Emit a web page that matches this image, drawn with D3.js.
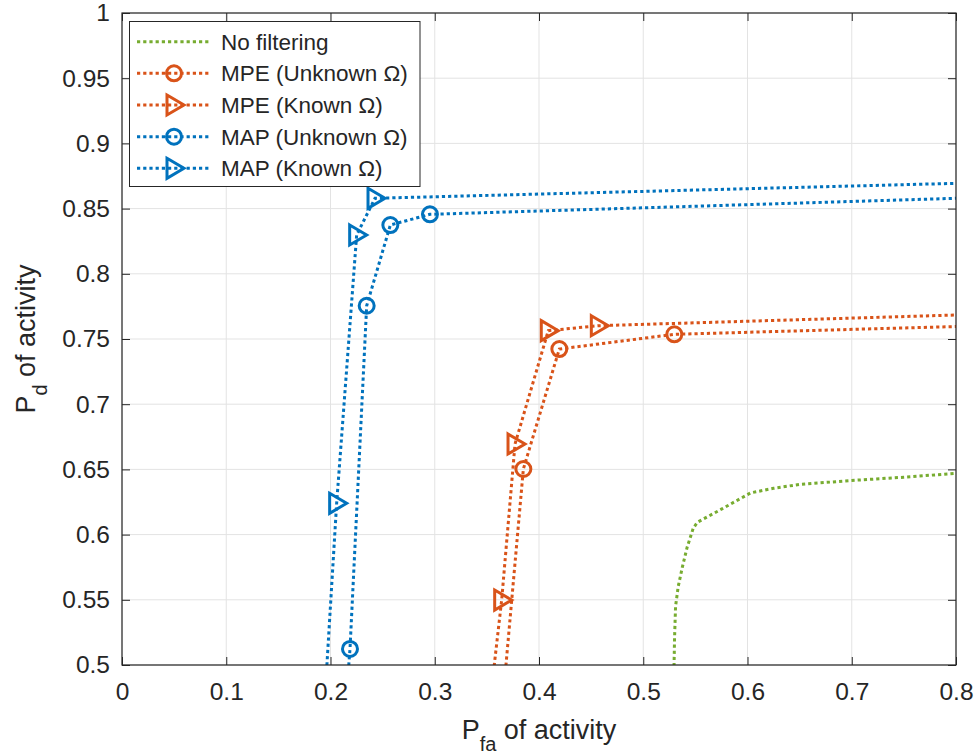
<!DOCTYPE html>
<html>
<head>
<meta charset="utf-8">
<script src="https://cdn.jsdelivr.net/npm/d3@7"></script>
<style>
  body { margin: 0; background: #fff; }
  text { font-family: "Liberation Sans", Arial, Helvetica, sans-serif; fill: #262626; }
</style>
</head>
<body>
<svg id="chart" width="979" height="755"></svg>
<script>
// tick values
const xTicks = [0, 0.1, 0.2, 0.3, 0.4, 0.5, 0.6, 0.7, 0.8];
const yTicks = [0.5, 0.55, 0.6, 0.65, 0.7, 0.75, 0.8, 0.85, 0.9, 0.95, 1];

// No filtering (line only)
const noFiltX = [0.5291, 0.5300, 0.5310, 0.5335, 0.5375, 0.5420, 0.5480, 0.5520, 0.5750, 0.6030, 0.6250, 0.6500, 0.7000, 0.7500, 0.8000, 0.8500];
const noFiltY = [0.480, 0.520, 0.545, 0.560, 0.575, 0.590, 0.605, 0.6095, 0.6195, 0.632, 0.6355, 0.6385, 0.6415, 0.6440, 0.6470, 0.6500];

// MPE (Unknown Omega) - circles
const mpeUnkX = [0.3572, 0.3850, 0.4195, 0.5298, 1.0];
const mpeUnkY = [0.400, 0.6503, 0.7423, 0.7536, 0.7640];

// MPE (Known Omega) - triangles
const mpeKnX = [0.3428, 0.3642, 0.3770, 0.4089, 0.4569, 1.0];
const mpeKnY = [0.400, 0.5498, 0.6695, 0.7564, 0.7602, 0.7732];

// MAP (Unknown Omega) - circles
const mapUnkX = [0.2080, 0.2187, 0.2347, 0.2574, 0.2954, 1.0];
const mapUnkY = [0.400, 0.5123, 0.7755, 0.8374, 0.8456, 0.8628];

// MAP (Known Omega) - triangles
const mapKnX = [0.1890, 0.2059, 0.2251, 0.2427, 1.0];
const mapKnY = [0.400, 0.6240, 0.8298, 0.8579, 0.8735];

const seriesNames = ["No filtering", "MPE (Unknown \u03A9)", "MPE (Known \u03A9)", "MAP (Unknown \u03A9)", "MAP (Known \u03A9)"];
const seriesColors = ["#77AC30", "#D95319", "#D95319", "#0072BD", "#0072BD"];
const seriesMarkers = ["none", "circle", "triangle", "circle", "triangle"];
const seriesX = [noFiltX, mpeUnkX, mpeKnX, mapUnkX, mapKnX];
const seriesY = [noFiltY, mpeUnkY, mpeKnY, mapUnkY, mapKnY];

const svg = d3.select("#chart");
const pLeft = 122, pRight = 956, pTop = 13, pBottom = 665;

const x = d3.scaleLinear().domain([0, 0.8]).range([pLeft, pRight]);
const y = d3.scaleLinear().domain([0.5, 1]).range([pBottom, pTop]);
const fmt = d => String(+d.toFixed(2));

svg.append("defs").append("clipPath").attr("id", "plotclip")
  .append("rect").attr("x", pLeft).attr("y", pTop)
  .attr("width", pRight - pLeft).attr("height", pBottom - pTop);

// grid
const grid = svg.append("g").attr("stroke", "#e3e3e3").attr("stroke-width", 1);
grid.selectAll(".vg").data(xTicks).join("line")
  .attr("x1", d => x(d)).attr("x2", d => x(d)).attr("y1", pTop).attr("y2", pBottom);
grid.selectAll(".hg").data(yTicks).join("line")
  .attr("y1", d => y(d)).attr("y2", d => y(d)).attr("x1", pLeft).attr("x2", pRight);

// marker shapes
const triPath = "M-7,-10L10,0L-7,10Z";
const lineW = 3, dash = "3.2 3";

// series
const plot = svg.append("g").attr("clip-path", "url(#plotclip)");
const line = d3.line().x(d => x(d[0])).y(d => y(d[1]));

seriesX.forEach((xs, i) => {
  const pts = xs.map((v, j) => [v, seriesY[i][j]]);
  plot.append("path").datum(pts)
    .attr("d", line)
    .attr("fill", "none")
    .attr("stroke", seriesColors[i])
    .attr("stroke-width", lineW)
    .attr("stroke-dasharray", dash);
  if (seriesMarkers[i] === "none") return;
  const g = plot.append("g").attr("fill", "none").attr("stroke", seriesColors[i]).attr("stroke-width", 3);
  if (seriesMarkers[i] === "circle") {
    g.selectAll("circle").data(pts).join("circle")
      .attr("cx", d => x(d[0])).attr("cy", d => y(d[1])).attr("r", 7.5);
  } else {
    g.selectAll("path").data(pts).join("path")
      .attr("d", triPath)
      .attr("transform", d => `translate(${x(d[0])},${y(d[1])})`);
  }
});

// axes (MATLAB style, ticks inside, box on)
const axisColor = "#262626";
function styleAxis(g) {
  g.select(".domain").remove();
  g.selectAll(".tick line").attr("stroke", axisColor);
  g.selectAll("text").attr("fill", axisColor).style("font-size", "24.5px")
    .style("font-family", "'Liberation Sans', Arial, Helvetica, sans-serif");
}
svg.append("g").attr("transform", `translate(0,${pBottom})`)
  .call(d3.axisBottom(x).tickValues(xTicks).tickFormat(fmt).tickSize(-8).tickPadding(18))
  .call(styleAxis);
svg.append("g").attr("transform", `translate(${pLeft},0)`)
  .call(d3.axisLeft(y).tickValues(yTicks).tickFormat(fmt).tickSize(-8).tickPadding(12))
  .call(styleAxis);
svg.append("g").attr("transform", `translate(0,${pTop})`)
  .call(d3.axisTop(x).tickValues(xTicks).tickFormat("").tickSize(-8))
  .call(styleAxis);
svg.append("g").attr("transform", `translate(${pRight},0)`)
  .call(d3.axisRight(y).tickValues(yTicks).tickFormat("").tickSize(-8))
  .call(styleAxis);

svg.append("rect")
  .attr("x", pLeft).attr("y", pTop).attr("width", pRight - pLeft).attr("height", pBottom - pTop)
  .attr("fill", "none").attr("stroke", axisColor).attr("stroke-width", 1.2);

// axis labels
const xl = svg.append("text").attr("x", (pLeft + pRight) / 2).attr("y", 739)
  .attr("text-anchor", "middle").style("font-size", "27px");
xl.append("tspan").text("P");
xl.append("tspan").attr("dy", 12).style("font-size", "20px").text("fa");
xl.append("tspan").attr("dy", -12).text(" of activity");

const yl = svg.append("text")
  .attr("transform", `translate(35,${(pTop + pBottom) / 2}) rotate(-90)`)
  .attr("text-anchor", "middle").style("font-size", "27px");
yl.append("tspan").text("P");
yl.append("tspan").attr("dy", 12).style("font-size", "20px").text("d");
yl.append("tspan").attr("dy", -12).text(" of activity");

// legend
const lg = svg.append("g");
lg.append("rect").attr("x", 129.5).attr("y", 21.5).attr("width", 290.5).attr("height", 165)
  .attr("fill", "#fff").attr("stroke", axisColor).attr("stroke-width", 1);
seriesNames.forEach((name, i) => {
  const cy = 41.7 + i * 31.65;
  lg.append("line").attr("x1", 137).attr("x2", 210).attr("y1", cy).attr("y2", cy)
    .attr("stroke", seriesColors[i]).attr("stroke-width", lineW).attr("stroke-dasharray", dash);
  if (seriesMarkers[i] === "circle") {
    lg.append("circle").attr("cx", 174).attr("cy", cy).attr("r", 7.5)
      .attr("fill", "none").attr("stroke", seriesColors[i]).attr("stroke-width", 3);
  } else if (seriesMarkers[i] === "triangle") {
    lg.append("path").attr("d", triPath).attr("transform", `translate(174,${cy})`)
      .attr("fill", "none").attr("stroke", seriesColors[i]).attr("stroke-width", 3);
  }
  lg.append("text").attr("x", 221).attr("y", cy + 8).style("font-size", "22.5px").attr("fill", "#000").text(name);
});
</script>
</body>
</html>
